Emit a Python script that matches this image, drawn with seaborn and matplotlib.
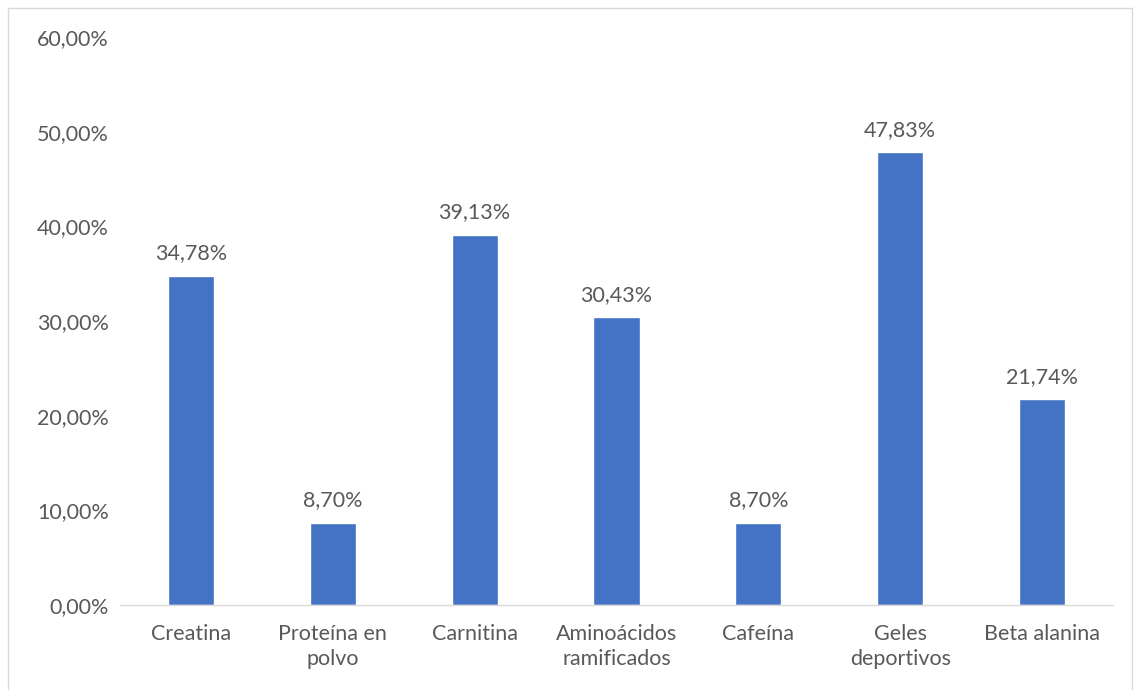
import numpy as np
import pandas as pd
from matplotlib import pyplot as plt
import matplotlib.ticker as ticker
import seaborn as sns

# DATA
categorias = ['Creatina', 'Proteína en\npolvo', 'Carnitina', 'Aminoácidos\nramificados',
              'Cafeína', 'Geles\ndeportivos', 'Beta alanina']
porcentajes = [34.78, 8.70, 39.13, 30.43, 8.70, 47.83, 21.74]
yticks = [0, 10, 20, 30, 40, 50, 60]

df = pd.DataFrame({'cat': categorias, 'pct': porcentajes})

sns.set_style('white')
plt.rcParams['font.family'] = ['Lato', 'DejaVu Sans']

gris = '#595959'
fs = 15.5
fig = plt.figure(figsize=(11.35, 6.9), dpi=100)
ax = fig.add_axes([0.1057, 0.1232, 0.8749, 0.8232])

sns.barplot(data=df, x='cat', y='pct', color='#4472C4', width=0.325,
            saturation=1, ax=ax)

for i, v in enumerate(porcentajes):
    ax.text(i, v + 1.3, '{:.2f}%'.format(v).replace('.', ','), ha='center', va='bottom',
            fontsize=fs, color=gris)

ax.set_ylim(0, 60)
ax.set_xlim(-0.5, len(categorias) - 0.5)
ax.set_yticks(yticks)
ax.yaxis.set_major_formatter(ticker.FuncFormatter(lambda y, _: '{:.2f}%'.format(y).replace('.', ',')))
ax.tick_params(axis='both', length=0, labelsize=fs, labelcolor=gris)
ax.tick_params(axis='y', pad=8)
ax.tick_params(axis='x', pad=14)
for lbl in ax.get_xticklabels():
    lbl.set_linespacing(1.3)
ax.set_xlabel('')
ax.set_ylabel('')

for s in ['top', 'right', 'left']:
    ax.spines[s].set_visible(False)
ax.spines['bottom'].set_color('#d9d9d9')
ax.spines['bottom'].set_linewidth(1)

# chart border
fig.patches.append(plt.Rectangle((8 / 1135, -0.01), 1124 / 1135, 1 - 8 / 690 + 0.01,
                                 transform=fig.transFigure, fill=False,
                                 edgecolor='#d9d9d9', linewidth=1))

fig.savefig('out.png', dpi=100)
plt.close()
